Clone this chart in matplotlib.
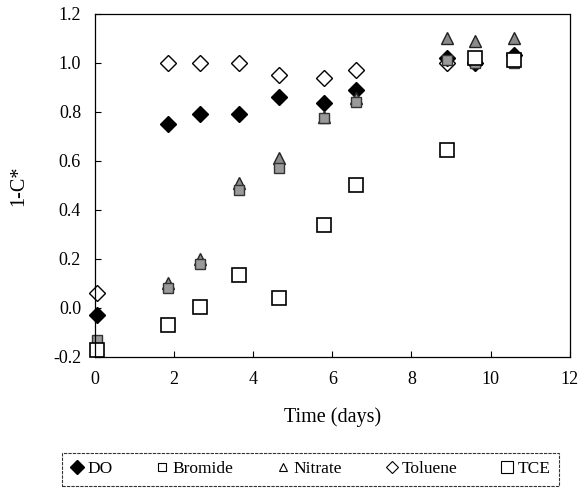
import matplotlib.pyplot as plt
from matplotlib.lines import Line2D

plt.rcParams['font.family'] = ['Liberation Serif', 'DejaVu Serif']

# sampling times (days)
days = [0.05, 1.85, 2.65, 3.65, 4.65, 5.8, 6.6, 8.9, 9.6, 10.6]

do_vals = [-0.03, 0.75, 0.79, 0.79, 0.86, 0.835, 0.89, 1.02, 1.0, 1.03]
bromide = [-0.13, 0.08, 0.18, 0.48, 0.57, 0.775, 0.84, 1.01, 1.0, 1.0]
nitrate = [-0.14, 0.10, 0.20, 0.51, 0.61, 0.78, 0.855, 1.10, 1.09, 1.10]
toluene = [0.06, 1.0, 1.0, 1.0, 0.95, 0.94, 0.97, 1.0]
tce = [-0.17, -0.07, 0.005, 0.135, 0.04, 0.34, 0.50, 0.645, 1.02, 1.01]

xticks = [0, 2, 4, 6, 8, 10, 12]
yticks = [-0.2, 0.0, 0.2, 0.4, 0.6, 0.8, 1.0, 1.2]

fig = plt.figure(figsize=(5.79, 4.93), dpi=100)
ax = fig.add_axes([0.164, 0.276, 0.82, 0.696])

ax.plot(days[:len(toluene)], toluene, ls='none', marker='D', ms=8, mfc='white', mec='black', mew=1.0, clip_on=False)
ax.plot(days, do_vals, ls='none', marker='D', ms=8, mfc='black', mec='black', clip_on=False)
ax.plot(days, nitrate, ls='none', marker='^', ms=8, mfc='#8a8a8a', mec='#222222', mew=1.0, clip_on=False)
ax.plot(days, bromide, ls='none', marker='s', ms=7, mfc='#9a9a9a', mec='#333333', mew=1.0, clip_on=False)
ax.plot(days, tce, ls='none', marker='s', ms=10, mfc='white', mec='black', mew=1.2, clip_on=False)

ax.set_xlim(0, 12)
ax.set_ylim(-0.2, 1.2)
ax.set_xticks(xticks)
ax.set_yticks(yticks)
ax.set_yticklabels([f'{v:.1f}' for v in yticks])
ax.tick_params(direction='in', length=4, labelsize=13, top=False, right=False)
ax.tick_params(axis='x', pad=10)
ax.tick_params(axis='y', pad=10)
ax.set_xlabel('Time (days)', fontsize=14.5, labelpad=14)
ax.set_ylabel('1-C*', fontsize=14.5, labelpad=18)
for sp in ax.spines.values():
    sp.set_linewidth(0.9)

handles = [
    Line2D([], [], ls='none', marker='D', ms=7, mfc='black', mec='black'),
    Line2D([], [], ls='none', marker='s', ms=6, mfc='white', mec='black', mew=0.8),
    Line2D([], [], ls='none', marker='^', ms=6, mfc='white', mec='black', mew=0.8),
    Line2D([], [], ls='none', marker='D', ms=6, mfc='white', mec='black', mew=0.8),
    Line2D([], [], ls='none', marker='s', ms=8, mfc='white', mec='black', mew=0.8),
]
leg = fig.legend(handles, ['DO', 'Bromide', 'Nitrate', 'Toluene', 'TCE'],
                 loc='center', bbox_to_anchor=(0.536, 0.048), ncol=5,
                 fontsize=12.5, frameon=True, fancybox=False, handlelength=0.8,
                 handletextpad=0.2, columnspacing=2.45, borderpad=0.5,
                 borderaxespad=0)
leg.get_frame().set_edgecolor('black')
leg.get_frame().set_linewidth(0.8)
leg.get_frame().set_linestyle((0, (3, 1)))

fig.savefig('out.png', dpi=100)
